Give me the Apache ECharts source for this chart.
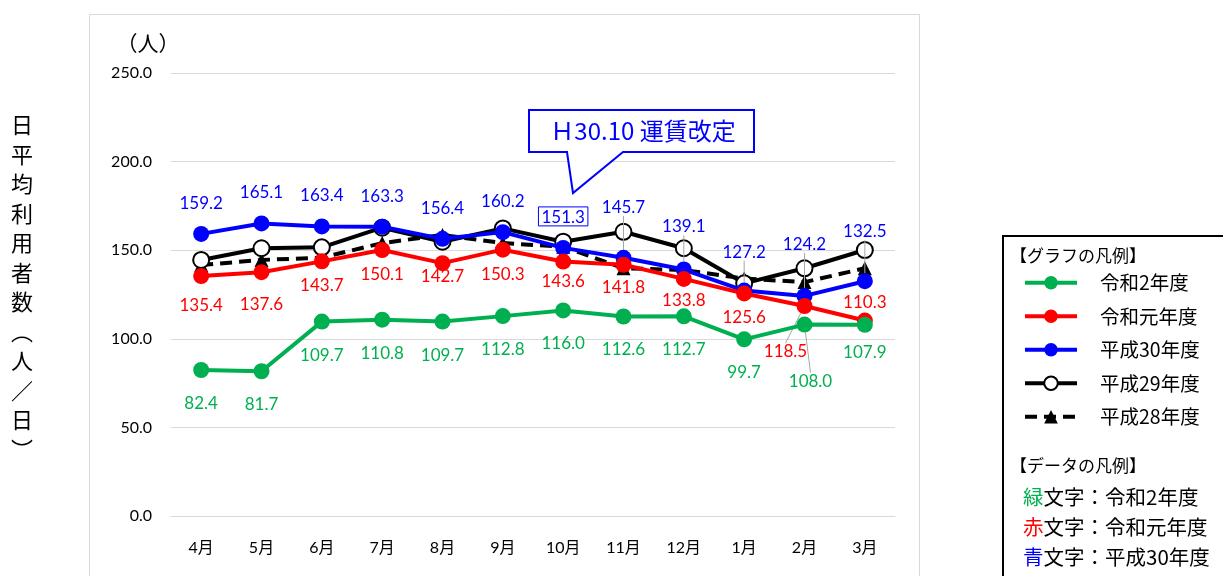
<!DOCTYPE html>
<html><head><meta charset="utf-8">
<script src="https://cdn.jsdelivr.net/npm/echarts@6/dist/echarts.min.js"></script>
<style>html,body{margin:0;padding:0;background:#fff}#c{width:1223px;height:576px}</style>
</head><body><div id="c"></div>
<script>
const months = ['4月','5月','6月','7月','8月','9月','10月','11月','12月','1月','2月','3月'];
const seriesNames = ['令和2年度','令和元年度','平成30年度','平成29年度','平成28年度'];
const r2  = [82.4, 81.7, 109.7, 110.8, 109.7, 112.8, 116.0, 112.6, 112.7, 99.7, 108.0, 107.9];
const r1  = [135.4, 137.6, 143.7, 150.1, 142.7, 150.3, 143.6, 141.8, 133.8, 125.6, 118.5, 110.3];
const h30 = [159.2, 165.1, 163.4, 163.3, 156.4, 160.2, 151.3, 145.7, 139.1, 127.2, 124.2, 132.5];
const h29 = [144.5, 151.1, 151.6, 162.7, 154.8, 162.3, 154.8, 160.4, 151.1, 131.3, 139.8, 150.1];
const h28 = [141.6, 144.5, 145.8, 154.0, 158.6, 154.0, 152.0, 139.8, 138.8, 134.0, 132.0, 139.8];

const NUM_FONT = 'Lato, "Noto Sans CJK JP", sans-serif';
const JP_FONT = '"Noto Sans CJK JP", sans-serif';
const GREEN = '#00B050', RED = '#FF0000', BLUE = '#0000FF';
const leader = {show: true, lineStyle: {color: '#a6a6a6', width: 1}};

// label adjustments (layout only)
const adjBlue  = {7: [0,-20], 8: [0,-12], 9: [0,-8], 10: [0,-21], 11: [0,-19]};
const adjRed   = {0: [0,5], 1: [0,8], 7: [0,-2], 4: [0,-11], 6: [0,-5], 8: [0,-3], 10: [-19,21], 11: [0,-43]};
const adjGreen = {10: [6,23], 11: [0,-6]};
const leaderBlue = [7,8,9,10,11], leaderRed = [10], leaderGreen = [10];

function items(arr, leaders, extra) {
  return arr.map((v, i) => {
    const o = {value: v};
    if (leaders.indexOf(i) >= 0) o.labelLine = leader;
    if (extra && extra[i]) Object.assign(o, extra[i]);
    return o;
  });
}
function layoutFn(adj) {
  return function (p) { const a = adj[p.dataIndex]; return a ? {dx: a[0], dy: a[1]} : {}; };
}

const chart = echarts.init(document.getElementById('c'));
chart.setOption({
  animation: false,
  backgroundColor: '#fff',
  grid: {left: 171, right: 328, top: 73, bottom: 60},
  xAxis: {
    type: 'category', data: months, boundaryGap: true,
    axisLine: {lineStyle: {color: '#d9d9d9', width: 1}},
    axisTick: {show: false},
    axisLabel: {color: '#000', fontSize: 16, fontFamily: NUM_FONT, margin: 24}
  },
  yAxis: {
    type: 'value', min: 0, max: 250, interval: 50,
    axisLine: {show: false}, axisTick: {show: false},
    splitLine: {lineStyle: {color: '#d9d9d9', width: 1}},
    axisLabel: {color: '#000', fontSize: 16, fontFamily: NUM_FONT, margin: 19, formatter: v => v.toFixed(1)}
  },
  legend: {
    data: seriesNames.map(n => ({name: n, lineStyle: {width: 4}})),
    orient: 'vertical', left: 1018, top: 268,
    itemWidth: 52, itemHeight: 17, itemGap: 14,
    textStyle: {fontSize: 19.5, fontFamily: JP_FONT, color: '#000', padding: [0, 0, 0, 18]},
    selectedMode: false
  },
  series: [
    {name: '平成28年度', type: 'line', data: h28, symbol: 'triangle', symbolSize: 14,
     itemStyle: {color: '#000'}, lineStyle: {color: '#000', width: 4, type: [12, 7]}, z: 2},
    {name: '平成29年度', type: 'line', data: h29, symbol: 'circle', symbolSize: 16,
     itemStyle: {color: '#fff', borderColor: '#000', borderWidth: 2}, lineStyle: {color: '#000', width: 4}, z: 3},
    {name: '平成30年度', type: 'line', data: items(h30, leaderBlue, {6: {label: {borderColor: BLUE, borderWidth: 1, padding: [2, 3, 0, 3]}}}),
     symbol: 'circle', symbolSize: 16,
     itemStyle: {color: BLUE}, lineStyle: {color: BLUE, width: 4}, z: 4,
     label: {show: true, position: 'top', distance: 14, color: BLUE, fontSize: 17, fontFamily: NUM_FONT, formatter: p => p.value.toFixed(1)},
     labelLayout: layoutFn(adjBlue)},
    {name: '令和元年度', type: 'line', data: items(r1, leaderRed), symbol: 'circle', symbolSize: 16,
     itemStyle: {color: RED}, lineStyle: {color: RED, width: 4}, z: 5,
     label: {show: true, position: 'bottom', distance: 8, color: RED, fontSize: 17, fontFamily: NUM_FONT, formatter: p => p.value.toFixed(1)},
     labelLayout: layoutFn(adjRed)},
    {name: '令和2年度', type: 'line', data: items(r2, leaderGreen), symbol: 'circle', symbolSize: 16,
     itemStyle: {color: GREEN}, lineStyle: {color: GREEN, width: 4}, z: 6,
     label: {show: true, position: 'bottom', distance: 17, color: GREEN, fontSize: 17, fontFamily: NUM_FONT, formatter: p => p.value.toFixed(1)},
     labelLayout: layoutFn(adjGreen)}
  ],
  graphic: [
    {type: 'rect', shape: {x: 89.5, y: 14.5, width: 830, height: 620}, style: {fill: null, stroke: '#d9d9d9', lineWidth: 1}, z: -10, silent: true},
    {type: 'polygon', shape: {points: [[529,110],[754,110],[754,152],[623,152],[573,193],[567,152],[529,152]]},
     style: {fill: '#fff', stroke: BLUE, lineWidth: 2}, z: 10},
    {type: 'text', x: 643, y: 131, style: {text: 'Ｈ30.10 運賃改定', fill: BLUE, font: '24px ' + JP_FONT, align: 'center', verticalAlign: 'middle'}, z: 11},
    {type: 'text', x: 148, y: 43, style: {text: '（人）', fill: '#000', font: '21px ' + JP_FONT, align: 'center', verticalAlign: 'middle'}},
    {type: 'text', x: 22, y: 110, style: {text: '日\n平\n均\n利\n用\n者\n数\n︵\n人\n／\n日\n︶', fill: '#000', font: '22px ' + JP_FONT, lineHeight: 29.5, align: 'center', verticalAlign: 'top'}},
    {type: 'rect', shape: {x: 1003, y: 236, width: 260, height: 400}, style: {fill: null, stroke: '#000', lineWidth: 2}, z: -5},
    {type: 'text', x: 1010, y: 256, style: {text: '【グラフの凡例】', fill: '#000', font: '17px ' + JP_FONT, verticalAlign: 'middle'}},
    {type: 'text', x: 1010, y: 466, style: {text: '【データの凡例】', fill: '#000', font: '17px ' + JP_FONT, verticalAlign: 'middle'}},
    {type: 'text', x: 1023, y: 497, style: {text: '{g|緑}文字：令和2年度', rich: {g: {fill: GREEN, font: '20.5px ' + JP_FONT}}, fill: '#000', font: '20.5px ' + JP_FONT, verticalAlign: 'middle'}},
    {type: 'text', x: 1023, y: 527, style: {text: '{r|赤}文字：令和元年度', rich: {r: {fill: RED, font: '20.5px ' + JP_FONT}}, fill: '#000', font: '20.5px ' + JP_FONT, verticalAlign: 'middle'}},
    {type: 'text', x: 1023, y: 557, style: {text: '{b|青}文字：平成30年度', rich: {b: {fill: BLUE, font: '20.5px ' + JP_FONT}}, fill: '#000', font: '20.5px ' + JP_FONT, verticalAlign: 'middle'}}
  ]
});
</script></body></html>
